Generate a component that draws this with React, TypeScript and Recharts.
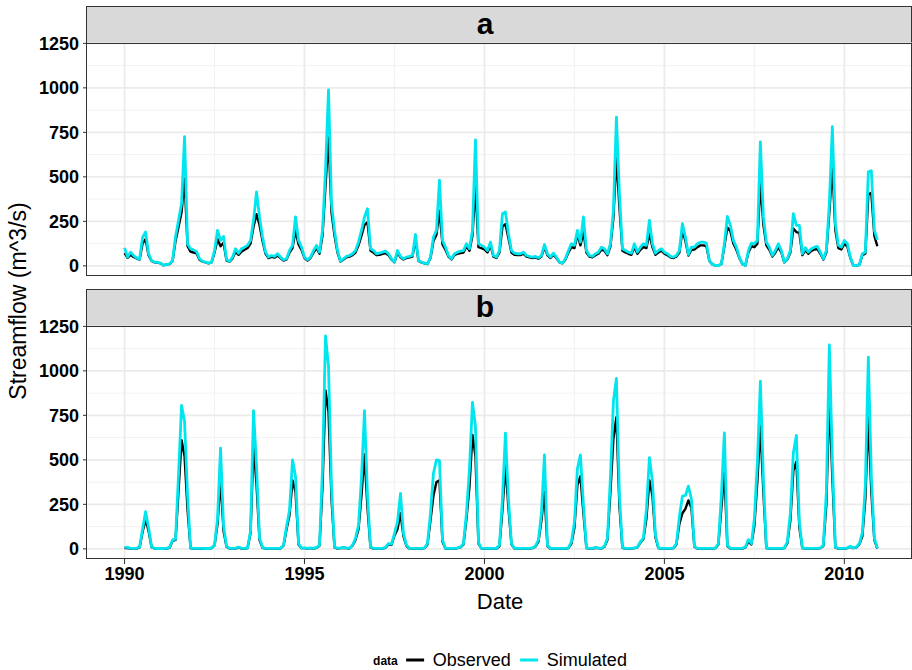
import { LineChart, Line, XAxis, YAxis, CartesianGrid } from "recharts";

// monthly streamflow, Jan 1990 .. Dec 2010 (one row of 12 per year)
const startYear = 1990;

const obsA = [
  72, 45, 62, 50, 42, 35, 125, 150, 60, 28, 20, 18,
  14, 3, 8, 10, 28, 140, 220, 300, 490, 110, 80, 75,
  70, 35, 24, 20, 14, 20, 75, 150, 110, 130, 30, 24,
  42, 80, 62, 80, 90, 100, 125, 220, 290, 230, 140, 68,
  44, 50, 46, 58, 44, 30, 36, 75, 100, 200, 120, 90,
  44, 30, 44, 75, 100, 68, 170, 450, 720, 300, 170, 75,
  24, 36, 48, 52, 60, 75, 115, 170, 230, 245, 85, 75,
  60, 62, 68, 72, 60, 36, 20, 75, 48, 36, 44, 48,
  52, 150, 28, 20, 14, 10, 44, 140, 175, 310, 120, 90,
  52, 36, 60, 68, 72, 75, 110, 85, 170, 450, 105, 100,
  92, 75, 115, 52, 44, 75, 220, 235, 155, 75, 62, 60,
  60, 68, 52, 48, 44, 48, 40, 52, 105, 60, 44, 62,
  44, 20, 14, 36, 75, 105, 100, 175, 115, 190, 75, 52,
  48, 60, 68, 90, 85, 60, 110, 270, 615, 330, 85, 75,
  68, 62, 105, 68, 90, 105, 100, 180, 105, 62, 75, 85,
  68, 60, 48, 44, 52, 75, 200, 140, 58, 90, 92, 105,
  115, 115, 110, 28, 8, 2, 2, 10, 110, 215, 195, 125,
  90, 44, 10, 2, 75, 110, 105, 125, 470, 230, 115, 90,
  52, 75, 105, 75, 20, 36, 75, 210, 190, 185, 60, 88,
  68, 84, 92, 95, 68, 36, 75, 300, 560, 200, 100, 92,
  125, 108, 44, 2, 2, 6, 60, 68, 400, 410, 170, 110,
];

const simA = [
  101, 49, 77, 58, 45, 38, 160, 190, 68, 30, 21, 19,
  15, 2, 8, 11, 30, 165, 256, 350, 726, 124, 96, 90,
  80, 40, 26, 21, 15, 21, 86, 199, 143, 165, 34, 26,
  49, 96, 71, 96, 105, 115, 143, 256, 415, 275, 162, 77,
  49, 58, 53, 68, 49, 34, 40, 86, 115, 275, 143, 105,
  49, 34, 49, 86, 115, 77, 199, 538, 989, 350, 199, 86,
  26, 40, 53, 58, 68, 86, 133, 199, 275, 321, 96, 86,
  68, 71, 77, 83, 68, 40, 21, 86, 53, 40, 49, 53,
  58, 177, 30, 21, 15, 11, 49, 162, 199, 481, 143, 105,
  58, 40, 68, 77, 83, 86, 124, 96, 199, 707, 124, 115,
  105, 86, 133, 58, 49, 86, 293, 303, 180, 86, 71, 68,
  68, 77, 58, 53, 49, 53, 45, 58, 120, 68, 49, 71,
  49, 21, 15, 40, 86, 124, 115, 199, 133, 275, 86, 58,
  53, 68, 77, 105, 96, 68, 124, 312, 835, 406, 96, 86,
  77, 71, 124, 77, 105, 124, 115, 256, 124, 71, 86, 96,
  77, 68, 53, 49, 58, 86, 237, 162, 64, 105, 105, 124,
  133, 133, 128, 30, 8, 2, 2, 11, 124, 278, 227, 143,
  105, 49, 11, 2, 86, 128, 124, 143, 697, 275, 133, 105,
  58, 86, 124, 86, 21, 40, 86, 293, 227, 227, 68, 102,
  77, 96, 105, 109, 77, 40, 86, 350, 782, 237, 115, 105,
  143, 124, 49, 2, 2, 6, 68, 77, 528, 534, 200, 146,
];

const obsB = [
  5, 5, 2, 2, 2, 8, 95, 165, 100, 10, 2, 2,
  2, 2, 2, 6, 45, 50, 330, 610, 520, 220, 4, 2,
  2, 2, 2, 2, 2, 4, 20, 140, 390, 100, 12, 2,
  2, 2, 8, 2, 2, 4, 90, 580, 360, 50, 6, 2,
  2, 2, 2, 2, 2, 18, 110, 190, 385, 320, 25, 4,
  4, 2, 4, 2, 6, 18, 350, 890, 770, 280, 8, 2,
  4, 6, 4, 2, 18, 50, 110, 300, 530, 230, 8, 2,
  2, 2, 2, 6, 25, 22, 75, 110, 200, 70, 16, 2,
  2, 2, 2, 2, 4, 25, 160, 300, 375, 385, 40, 2,
  2, 2, 2, 4, 8, 25, 170, 350, 640, 520, 30, 2,
  2, 2, 2, 2, 2, 15, 220, 470, 230, 25, 2, 2,
  2, 2, 2, 2, 4, 12, 40, 160, 320, 16, 2, 2,
  2, 2, 2, 2, 4, 30, 120, 360, 408, 200, 4, 2,
  2, 6, 4, 2, 12, 50, 320, 620, 740, 240, 6, 2,
  2, 2, 4, 8, 35, 55, 170, 385, 300, 65, 4, 2,
  2, 2, 2, 4, 25, 140, 200, 225, 272, 230, 12, 2,
  2, 2, 2, 2, 2, 4, 25, 230, 430, 16, 2, 2,
  2, 2, 2, 8, 40, 25, 130, 380, 690, 320, 4, 2,
  2, 2, 2, 2, 4, 32, 160, 440, 490, 120, 4, 2,
  2, 2, 2, 2, 4, 16, 250, 850, 400, 8, 2, 2,
  2, 4, 12, 4, 8, 25, 70, 280, 740, 320, 50, 2,
];

const simB = [
  8, 8, 3, 3, 3, 10, 110, 209, 120, 12, 3, 2,
  2, 2, 3, 8, 50, 55, 420, 806, 716, 300, 5, 3,
  3, 3, 3, 2, 2, 5, 21, 170, 566, 130, 15, 3,
  3, 3, 10, 3, 3, 5, 100, 776, 462, 60, 8, 3,
  3, 3, 3, 3, 3, 21, 124, 218, 500, 406, 30, 5,
  5, 3, 5, 3, 8, 20, 450, 1196, 1026, 350, 10, 3,
  5, 8, 5, 3, 20, 60, 131, 400, 776, 300, 10, 3,
  3, 3, 3, 8, 30, 26, 86, 150, 312, 86, 21, 3,
  3, 3, 3, 3, 5, 30, 199, 425, 500, 496, 50, 3,
  3, 3, 3, 5, 10, 30, 199, 450, 823, 688, 37, 3,
  3, 3, 3, 3, 3, 20, 280, 650, 280, 30, 3, 3,
  3, 3, 3, 3, 5, 15, 50, 200, 528, 20, 3, 3,
  3, 3, 3, 3, 5, 40, 150, 450, 528, 250, 5, 3,
  3, 8, 5, 3, 15, 60, 400, 829, 957, 300, 8, 3,
  3, 3, 5, 10, 40, 60, 220, 513, 380, 80, 5, 3,
  3, 3, 3, 5, 30, 180, 296, 300, 352, 281, 15, 3,
  3, 3, 3, 3, 3, 5, 30, 300, 652, 20, 3, 3,
  3, 3, 3, 10, 52, 30, 169, 480, 942, 400, 5, 3,
  3, 3, 3, 3, 5, 40, 200, 538, 637, 150, 5, 3,
  3, 3, 3, 3, 5, 20, 318, 1146, 500, 10, 3, 3,
  3, 5, 15, 5, 10, 30, 90, 356, 1077, 410, 60, 3,
];

const yearTicks = [1990, 1995, 2000, 2005, 2010];
const minorYears = [1992.5, 1997.5, 2002.5, 2007.5];
const flowTicks = [0, 250, 500, 750, 1000, 1250];
const minorFlow = [125, 375, 625, 875, 1125];

const toRows = (obs: number[], sim: number[]) =>
  obs.map((v, i) => ({ t: startYear + i / 12, obs: v, sim: sim[i] }));

const panelA = toRows(obsA, simA);
const panelB = toRows(obsB, simB);

const FONT = "'Liberation Sans', Arial, Helvetica, sans-serif";
const OBS_COLOR = "#000000";
const SIM_COLOR = "#00E5EE";
const PLOT_LEFT = 86;
const PLOT_W = 826;
const PLOT_H = 233;
const PAD = 12; // room above/below the plot so the end tick labels are not clipped

function Panel({ data, label, top, showX }: { data: any[]; label: string; top: number; showX: boolean }) {
  return (
    <>
      <div
        style={{
          position: "absolute", left: PLOT_LEFT, top: top - 37, width: PLOT_W, height: 38,
          background: "#D9D9D9", border: "1px solid #333", boxSizing: "border-box",
        }}
      >
        <span
          style={{
            position: "absolute", left: 398, top: "50%", transform: "translate(-50%, -52%)",
            fontWeight: "bold", fontSize: 30, lineHeight: 1,
          }}
        >
          {label}
        </span>
      </div>
      <div style={{ position: "absolute", left: 0, top: top - PAD }}>
        <LineChart
          width={912}
          height={PLOT_H + PAD + (showX ? 40 : PAD)}
          data={data}
          margin={{ top: PAD, right: 0, bottom: showX ? 0 : PAD, left: 0 }}
        >
          <CartesianGrid
            horizontalValues={minorFlow}
            verticalValues={minorYears}
            stroke="#F2F2F2"
            strokeWidth={1}
          />
          <CartesianGrid
            horizontalValues={flowTicks}
            verticalValues={yearTicks}
            stroke="#EBEBEB"
            strokeWidth={1.8}
          />
          <XAxis
            type="number"
            dataKey="t"
            domain={[1988.956, 2011.88]}
            allowDataOverflow
            ticks={yearTicks}
            interval={0}
            hide={!showX}
            height={40}
            axisLine={false}
            tickSize={5}
            tickMargin={3}
            tickLine={{ stroke: "#333" }}
            tick={{ fill: "#000", fontSize: 18, fontWeight: "bold", fontFamily: FONT }}
          />
          <YAxis
            type="number"
            domain={[-57, 1252]}
            allowDataOverflow
            ticks={flowTicks}
            interval={0}
            width={PLOT_LEFT + 1}
            axisLine={false}
            tickSize={4}
            tickMargin={4}
            tickLine={{ stroke: "#333" }}
            tick={{ fill: "#000", fontSize: 18, fontWeight: "bold", fontFamily: FONT }}
          />
          <Line
            type="linear"
            dataKey="obs"
            stroke={OBS_COLOR}
            strokeWidth={2.4}
            strokeLinejoin="round"
            dot={false}
            isAnimationActive={false}
          />
          <Line
            type="linear"
            dataKey="sim"
            stroke={SIM_COLOR}
            strokeWidth={2.8}
            strokeLinejoin="round"
            dot={false}
            isAnimationActive={false}
          />
        </LineChart>
      </div>
      <div
        style={{
          position: "absolute", left: PLOT_LEFT, top, width: PLOT_W, height: PLOT_H,
          border: "1px solid #333", boxSizing: "border-box", pointerEvents: "none",
        }}
      />
    </>
  );
}

export default function App() {
  return (
    <div
      style={{
        position: "absolute", left: 0, top: 0, width: 912, height: 670,
        background: "#fff", overflow: "hidden", fontFamily: FONT, color: "#000",
      }}
    >
      <Panel data={panelA} label="a" top={43} showX={false} />
      <Panel data={panelB} label="b" top={326} showX={true} />

      <div
        style={{
          position: "absolute", left: 18, top: 301, transform: "translate(-50%, -50%) rotate(-90deg)",
          fontSize: 23, whiteSpace: "nowrap",
        }}
      >
        Streamflow (m^3/s)
      </div>

      <div
        style={{
          position: "absolute", left: 500, top: 602, transform: "translate(-50%, -50%)",
          fontSize: 22,
        }}
      >
        Date
      </div>

      <div
        style={{
          position: "absolute", left: 500, top: 660, transform: "translate(-50%, -50%)",
          display: "flex", alignItems: "center", whiteSpace: "nowrap",
        }}
      >
        <span style={{ fontSize: 12, fontWeight: "bold", marginRight: 8 }}>data</span>
        <span style={{ display: "inline-block", width: 18, height: 3, background: OBS_COLOR, marginRight: 9 }} />
        <span style={{ fontSize: 18, marginRight: 9 }}>Observed</span>
        <span style={{ display: "inline-block", width: 18, height: 3, background: SIM_COLOR, marginRight: 9 }} />
        <span style={{ fontSize: 18 }}>Simulated</span>
      </div>
    </div>
  );
}
